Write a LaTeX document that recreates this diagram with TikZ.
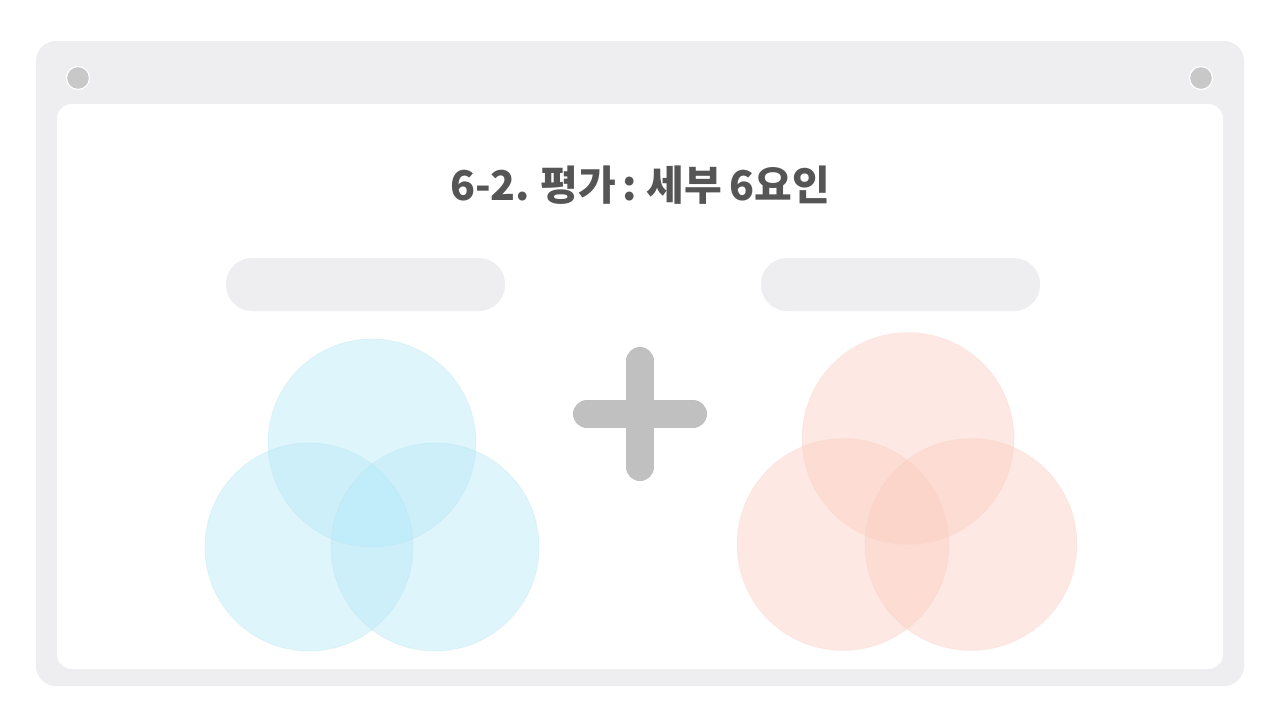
\documentclass[tikz,border=0pt]{standalone}
\usepackage{fontspec}
\newfontfamily\krfont{Noto Sans CJK KR}
\definecolor{frame}{HTML}{EEEEF0}
\definecolor{dotc}{HTML}{C8C8C8}
\definecolor{plusc}{HTML}{C0C0C0}
\definecolor{titlec}{HTML}{555555}
\definecolor{bluec}{RGB}{180,232,248}
\definecolor{blueb}{RGB}{190,232,236}
\definecolor{redc}{RGB}{251,206,193}
\begin{document}
\begin{tikzpicture}[x=1pt,y=-1pt,
  pill/.style={fill=frame,rounded corners=26pt},
  dotst/.style={fill=dotc,draw=white,line width=1.2pt},
  bluecirc/.style={fill=bluec,fill opacity=0.42,draw=blueb,draw opacity=0.35,line width=0.8pt},
  redcirc/.style={fill=redc,fill opacity=0.45,draw=redc,draw opacity=0.2,line width=0.8pt},
  plusarm/.style={draw=plusc,line width=28pt,line cap=round}]
\useasboundingbox (0,0) rectangle (1280,720);
\fill[white] (0,0) rectangle (1280,720);
% frame
\fill[frame,rounded corners=20pt] (36,41) rectangle (1244,686);
\fill[white,rounded corners=15pt] (57,104) rectangle (1223,669);
\node[dotst,circle,minimum size=23pt,inner sep=0pt] (dl) at (78,78) {};
\node[dotst,circle,minimum size=23pt,inner sep=0pt] (dr) at (1201,78) {};
% title
\node[text=titlec,font=\krfont\bfseries\fontsize{41}{48}\selectfont] (title) at (640,185) {6-2.\hspace{-2pt} 평가\hspace{-3pt} :\hspace{-3pt} 세부\hspace{-2pt} 6요인};
% pills
\fill[pill] (226,258) rectangle (505,311);
\fill[pill] (761,258) rectangle (1040,311);
% blue circles
\draw[bluecirc] (372,443) circle (104);
\draw[bluecirc] (309,547) circle (104);
\draw[bluecirc] (435,547) circle (104);
% plus
\coordinate (pl) at (587,414);
\coordinate (pr) at (693,414);
\coordinate (pt) at (640,361);
\coordinate (pb) at (640,467);
\fill[plusc] (640,392) -- (662,414) -- (640,436) -- (618,414) -- cycle;
\draw[plusarm] (pl) -- (pr);
\draw[plusarm] (pt) -- (pb);
% red circles
\draw[redcirc] (908,438.5) circle (106);
\draw[redcirc] (843,544.5) circle (106);
\draw[redcirc] (971,544.5) circle (106);
\end{tikzpicture}
\end{document}
